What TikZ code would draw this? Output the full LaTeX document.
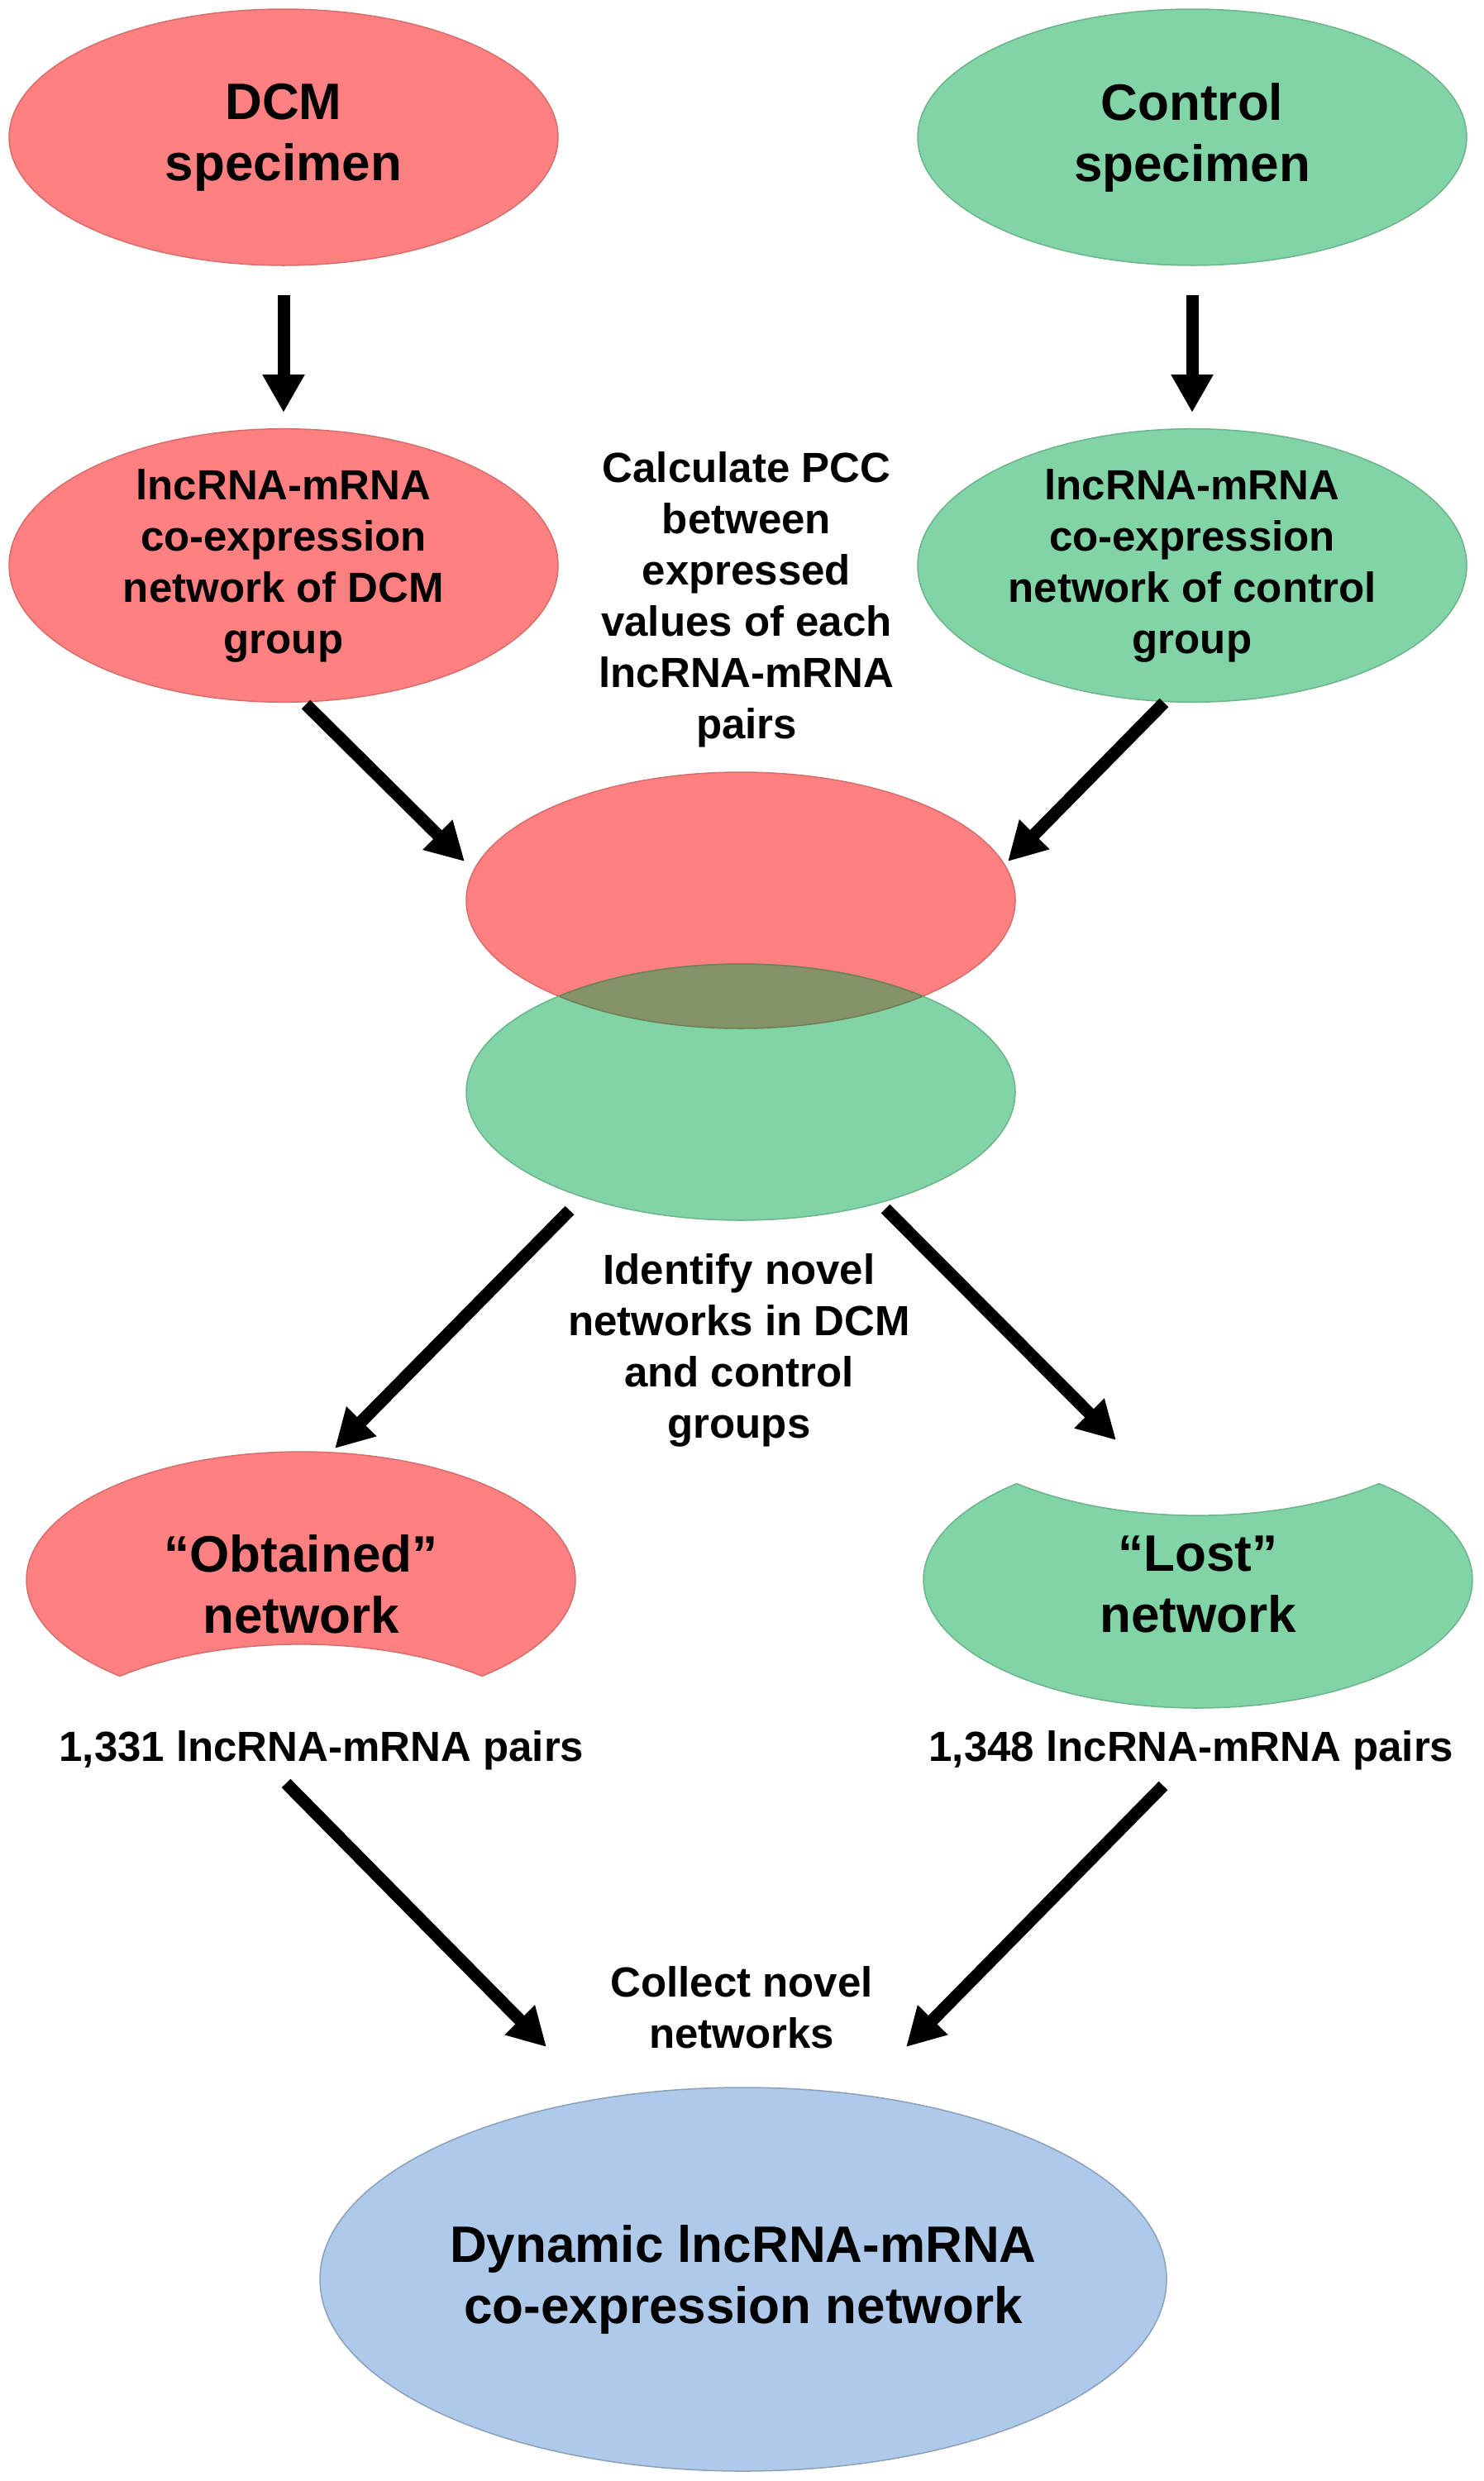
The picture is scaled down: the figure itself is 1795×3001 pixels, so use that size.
\documentclass[tikz,border=0pt]{standalone}
\usepackage{fontspec}
\setmainfont{Liberation Sans}
\usetikzlibrary{shapes.geometric,arrows.meta}
\definecolor{cred}{RGB}{255,128,128}
\definecolor{cgreen}{RGB}{128,212,166}
\definecolor{colive}{RGB}{132,148,104}
\definecolor{cblue}{RGB}{174,201,233}
\begin{document}
\begin{tikzpicture}[x=1pt,y=-1pt,
  ell/.style={ellipse, minimum width=664pt, minimum height=310pt, inner sep=0pt, line width=1.5pt, align=center},
  redell/.style={ell, fill=cred, draw=cred!85!black},
  greenell/.style={ell, fill=cgreen, draw=cgreen!85!black},
  big/.style={font=\bfseries\fontsize{62}{74}\selectfont, align=center},
  med/.style={font=\bfseries\fontsize{51}{62}\selectfont, align=center},
  arr/.style={line width=15pt, -{Triangle[length=46pt,width=48pt]}},
  redshape/.style={fill=cred, draw=cred!85!black, line width=1.5pt},
  greenshape/.style={fill=cgreen, draw=cgreen!85!black, line width=1.5pt}]

\useasboundingbox (0,0) rectangle (1795,3001);

% top specimens
\node[redell, big] (dcm) at (343,166) {DCM\\specimen};
\node[greenell, big] (ctl) at (1442,166) {Control\\specimen};

% co-expression networks
\node[redell, med] (dcmnet) at (343,684) {lncRNA-mRNA\\co-expression\\network of DCM\\group};
\node[greenell, med] (ctlnet) at (1442,684) {lncRNA-mRNA\\co-expression\\network of control\\group};

\node[med] (pcc) at (903,725) {Calculate PCC\\between\\expressed\\values of each\\lncRNA-mRNA\\pairs};

% overlapping ellipses
\node[redell] (ovred) at (896,1089) {};
\node[greenell] (ovgreen) at (896,1321) {};
\begin{scope}
  \clip (896,1089) ellipse [x radius=332, y radius=155];
  \fill[colive] (896,1321) ellipse [x radius=332, y radius=155];
  \draw[draw=colive!85!black, line width=1.5pt] (896,1321) ellipse [x radius=332, y radius=155];
\end{scope}
\draw[draw=colive!85!black, line width=1.5pt]
  (896,1089) ++(131.3:332 and 155) arc[start angle=131.3, end angle=48.7, x radius=332, y radius=155];

\node[med] (ident) at (894,1633) {Identify novel\\networks in DCM\\and control\\groups};

% "Obtained" network (red minus green)
\path[redshape] (364,1911) ++(131.3:332 and 155)
  arc[start angle=131.3, end angle=408.7, x radius=332, y radius=155]
  arc[start angle=-48.7, end angle=-131.3, x radius=332, y radius=155] -- cycle;
\node[big] (obt) at (364,1916) {“Obtained”\\network};

% "Lost" network (green minus red)
\path[greenshape] (1449,1911) ++(311.3:332 and 155)
  arc[start angle=311.3, end angle=588.7, x radius=332, y radius=155]
  arc[start angle=131.3, end angle=48.7, x radius=332, y radius=155] -- cycle;
\node[big] (lost) at (1449,1916) {“Lost”\\network};

\node[med] (p1) at (389,2117) {1,331 lncRNA-mRNA pairs};
\node[med] (p2) at (1441,2117) {1,348 lncRNA-mRNA pairs};

\node[med] (coll) at (897,2428) {Collect novel\\networks};

\node[ell, fill=cblue, draw=cblue!80!black, minimum width=1024pt, minimum height=464pt, big] (dyn) at (899,2757) {Dynamic lncRNA-mRNA\\co-expression network};

% arrow end points
\coordinate (a1s) at (343,357);  \coordinate (a1e) at (343,499);
\coordinate (a2s) at (1442,357); \coordinate (a2e) at (1442,499);
\coordinate (a3s) at (370,852);  \coordinate (a3e) at (562,1042);
\coordinate (a4s) at (1408,850); \coordinate (a4e) at (1219,1042);
\coordinate (a5s) at (689,1464); \coordinate (a5e) at (405,1752);
\coordinate (a6s) at (1071,1462);\coordinate (a6e) at (1350,1742);
\coordinate (a7s) at (346,2157); \coordinate (a7e) at (661,2476);
\coordinate (a8s) at (1407,2160);\coordinate (a8e) at (1096,2476);

\draw[arr] (a1s) -- (a1e);
\draw[arr] (a2s) -- (a2e);
\draw[arr] (a3s) -- (a3e);
\draw[arr] (a4s) -- (a4e);
\draw[arr] (a5s) -- (a5e);
\draw[arr] (a6s) -- (a6e);
\draw[arr] (a7s) -- (a7e);
\draw[arr] (a8s) -- (a8e);
\end{tikzpicture}
\end{document}
